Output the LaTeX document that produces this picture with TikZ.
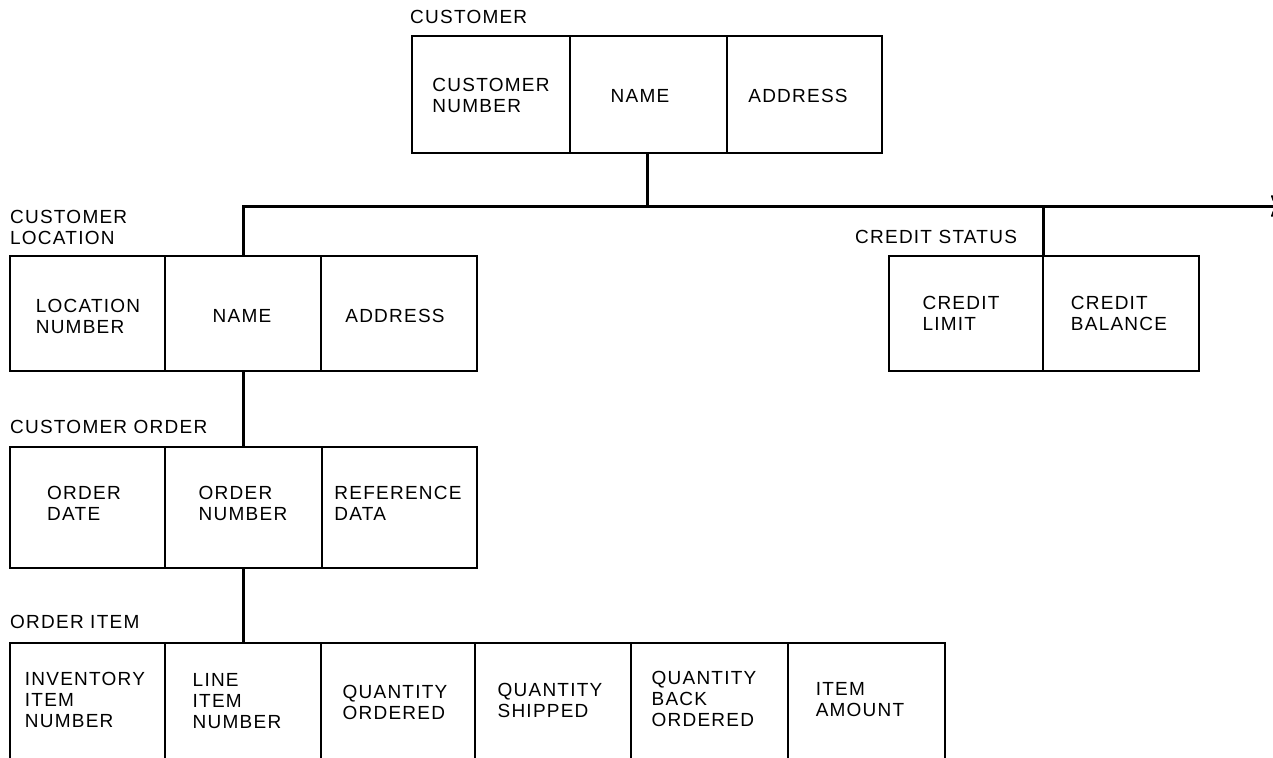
\documentclass[tikz,border=0pt]{standalone}
\usepackage{fontspec}
\setmainfont{Liberation Sans}[LetterSpace=6.5]
\usetikzlibrary{arrows.meta}

\begin{document}
\begin{tikzpicture}[x=1pt,y=-1pt,
  record/.style={draw, line width=1.7pt, inner sep=0pt, outer sep=0pt},
  field/.style={align=left, inner sep=0pt, font=\fontsize{19}{21}\selectfont},
  title/.style={anchor=north west, inner sep=0pt, align=left, font=\fontsize{19}{21}\selectfont},
  divider/.style={line width=1.1pt},
  conn/.style={line width=3pt}]
\clip (0,0) rectangle (1273,757);

% ---- CUSTOMER segment
\node[title] (custT) at (410,10) {CUSTOMER};
\node[record, minimum width=470, minimum height=117] (cust) at (647,94.5) {};
\draw[divider] (570,36) -- (570,153) (727,36) -- (727,153);
\node[field] (c1) at (491,95.5) {CUSTOMER\\NUMBER};
\node[field] (c2) at (640,96) {NAME};
\node[field] (c3) at (798,96) {ADDRESS};

% ---- CUSTOMER LOCATION segment
\node[title] (locT) at (10,210) {CUSTOMER\\LOCATION};
\node[record, minimum width=467, minimum height=115] (loc) at (243.5,313.5) {};
\draw[divider] (165,256) -- (165,371) (321,256) -- (321,371);
\node[field] (l1) at (88,316) {LOCATION\\NUMBER};
\node[field] (l2) at (242,316) {NAME};
\node[field] (l3) at (395,316) {ADDRESS};

% ---- CREDIT STATUS segment
\node[title] (credT) at (855,230) {CREDIT STATUS};
\node[record, minimum width=310, minimum height=115] (cred) at (1044,313.5) {};
\draw[divider] (1043,256) -- (1043,371);
\node[field] (r1) at (961,313.5) {CREDIT\\LIMIT};
\node[field] (r2) at (1119,313.5) {CREDIT\\BALANCE};

% ---- CUSTOMER ORDER segment
\node[title] (ordT) at (10,420) {CUSTOMER ORDER};
\node[record, minimum width=467, minimum height=121] (ord) at (243.5,507.5) {};
\draw[divider] (165,447) -- (165,568) (322,447) -- (322,568);
\node[field] (o1) at (84,503) {ORDER\\DATE};
\node[field] (o2) at (243,503) {ORDER\\NUMBER};
\node[field] (o3) at (398,503) {REFERENCE\\DATA};

% ---- ORDER ITEM segment (runs past the lower edge)
\node[title] (itemT) at (10,615) {ORDER ITEM};
\node[record, minimum width=935, minimum height=134] (item) at (477.5,710) {};
\draw[divider] (165,643) -- (165,777) (321,643) -- (321,777) (475,643) -- (475,777)
               (631,643) -- (631,777) (788,643) -- (788,777);
\node[field] (i1) at (85,700) {INVENTORY\\ITEM\\NUMBER};
\node[field] (i2) at (237,701) {LINE\\ITEM\\NUMBER};
\node[field] (i3) at (395,702) {QUANTITY\\ORDERED};
\node[field] (i4) at (550,700) {QUANTITY\\SHIPPED};
\node[field] (i5) at (704,699) {QUANTITY\\BACK\\ORDERED};
\node[field] (i6) at (860,700) {ITEM\\AMOUNT};

% ---- connectors
\coordinate (busEnd) at (1281,206);
\draw[conn] (cust.south) -- (cust.south |- busEnd);
\draw[conn, -{To[length=10pt,width=22pt,line width=2pt]}] (loc.north) |- (busEnd);
\draw[conn] (cred.north -| 1043,0) -- (1043,206);
\draw[conn] (loc.south) -- (ord.north);
\draw[conn] (ord.south) -- (item.north -| ord.south);
\end{tikzpicture}
\end{document}
